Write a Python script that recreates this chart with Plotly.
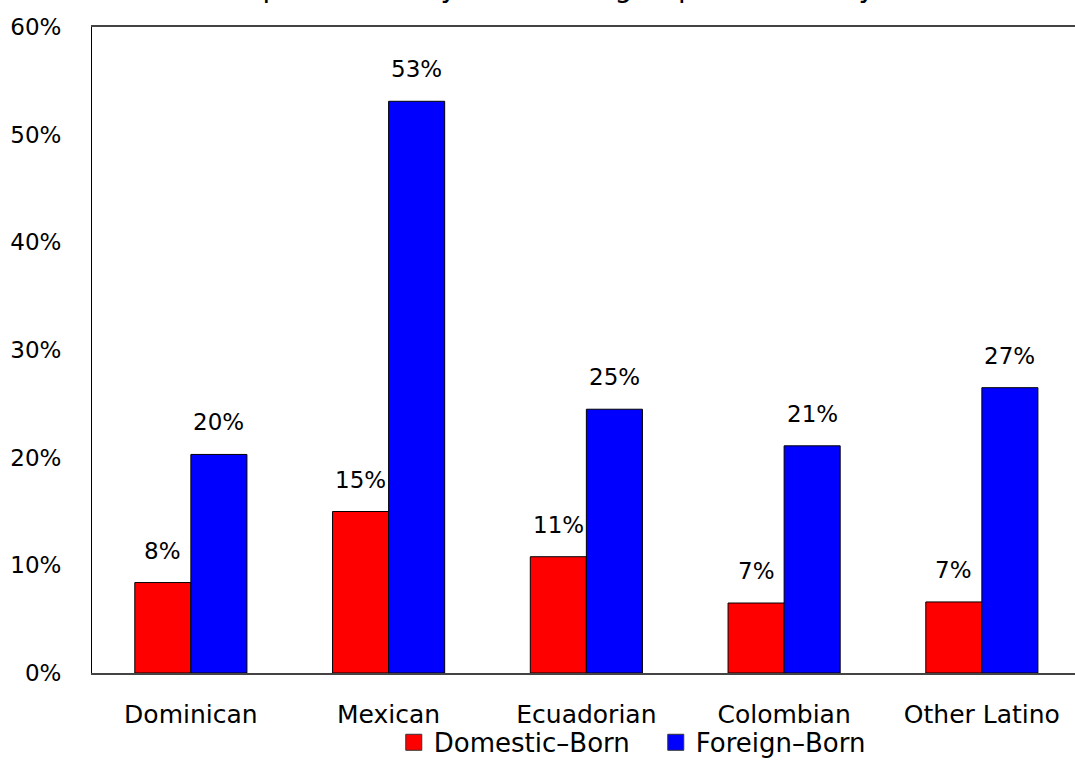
import plotly.graph_objects as go

categories = ["Dominican", "Mexican", "Ecuadorian", "Colombian", "Other Latino"]
domestic = [8.4, 15.0, 10.8, 6.5, 6.6]
foreign = [20.3, 53.1, 24.5, 21.1, 26.5]
domestic_labels = ["8%", "15%", "11%", "7%", "7%"]
foreign_labels = ["20%", "53%", "25%", "21%", "27%"]
series_names = ["Domestic–Born", "Foreign–Born"]
y_ticks = [0, 10, 20, 30, 40, 50, 60]
y_ticktext = ["0%", "10%", "20%", "30%", "40%", "50%", "60%"]
title_text = "School Dropout Rates by Latino Subgroup and Nativity, 2000"

FONT = "DejaVu Sans"
RED = "#FF0000"
BLUE = "#0000FF"

fig = go.Figure()
fig.add_trace(go.Bar(x=categories, y=domestic, name=series_names[0],
                     marker=dict(color=RED, line=dict(color="black", width=1)),
                     showlegend=False))
fig.add_trace(go.Bar(x=categories, y=foreign, name=series_names[1],
                     marker=dict(color=BLUE, line=dict(color="black", width=1)),
                     showlegend=False))
# legend entries
for nm, col in zip(series_names, [RED, BLUE]):
    fig.add_trace(go.Scatter(x=[None], y=[None], mode="markers", name=nm,
                             marker=dict(symbol="square", size=16, color=col,
                                         line=dict(color="#333", width=1))))

annotations = []
for cat, v, t in zip(categories, domestic, domestic_labels):
    annotations.append(dict(x=cat, y=v, text=t, showarrow=False, xshift=-28,
                            yshift=32, yanchor="middle",
                            font=dict(family=FONT, size=23, color="black")))
for cat, v, t in zip(categories, foreign, foreign_labels):
    annotations.append(dict(x=cat, y=v, text=t, showarrow=False, xshift=28,
                            yshift=32, yanchor="middle",
                            font=dict(family=FONT, size=23, color="black")))
annotations.append(dict(xref="paper", yref="paper", x=0.453, y=1, yanchor="bottom",
                        yshift=21, text=title_text, showarrow=False,
                        font=dict(family=FONT, size=28, color="black")))

fig.update_layout(
    width=1075, height=766,
    margin=dict(l=92, r=0, t=27, b=79),
    paper_bgcolor="white", plot_bgcolor="white",
    barmode="group", bargap=0.433, bargroupgap=0,
    font=dict(family=FONT, size=23, color="black"),
    annotations=annotations,
    legend=dict(orientation="h", x=0.307, xanchor="left", y=-0.071, yanchor="top",
                font=dict(family=FONT, size=26, color="black"),
                bgcolor="rgba(0,0,0,0)", itemwidth=30, tracegroupgap=0,
                entrywidth=217, entrywidthmode="pixels"),
    xaxis=dict(range=[-0.5, 4.471], showline=True, linecolor="#444", linewidth=2,
               mirror=True, showgrid=False, ticks="", ticklabelstandoff=18,
               tickfont=dict(family=FONT, size=25, color="black")),
    yaxis=dict(range=[0, 60], tickvals=y_ticks, ticktext=y_ticktext,
               showline=True, linecolor="black", linewidth=1, showgrid=False,
               zeroline=False, ticks="", ticklabelstandoff=25,
               tickfont=dict(family=FONT, size=23, color="black")),
)

fig.write_html("out.html")
